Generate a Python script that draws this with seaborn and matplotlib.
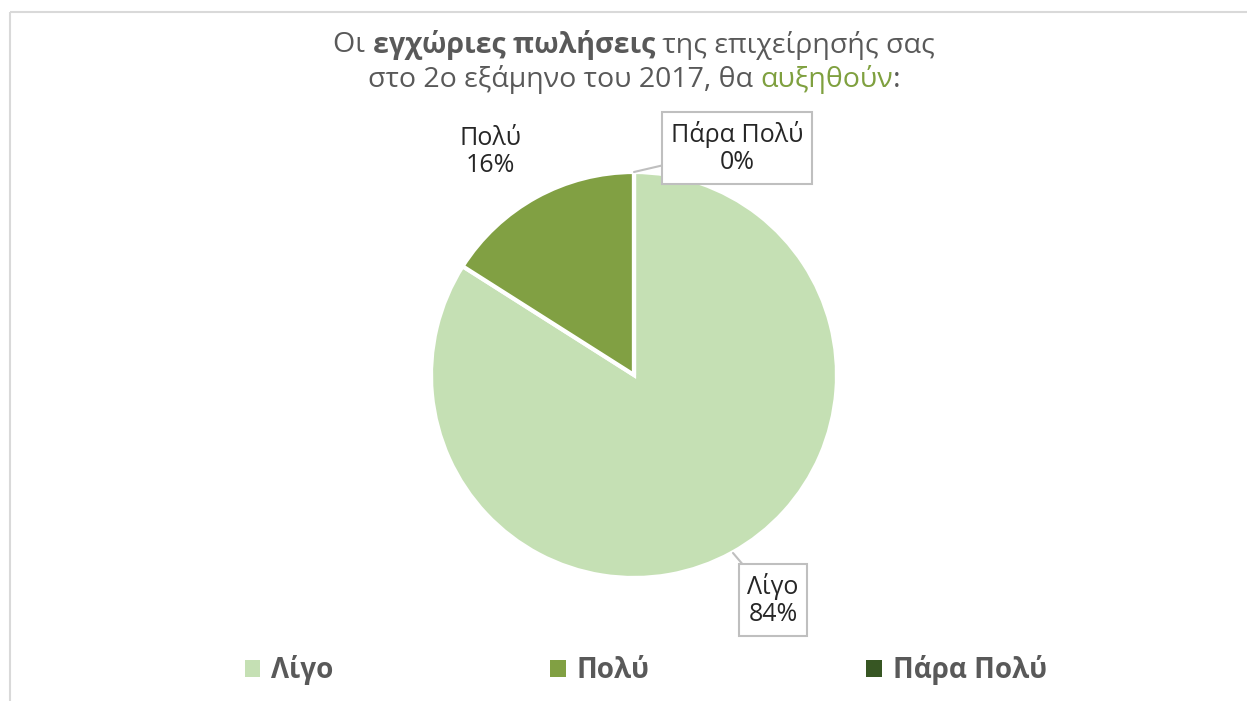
import matplotlib
matplotlib.use("Agg")
import matplotlib.pyplot as plt
from matplotlib.patches import Patch
import seaborn as sns

# data
categories = ["Λίγο", "Πολύ", "Πάρα Πολύ"]
values = [84, 16, 0]
colors = ["#C5E0B4", "#81A043", "#375623"]

title_line1 = [("Οι ", "normal", "#595959"), ("εγχώριες πωλήσεις", "bold", "#595959"),
               (" της επιχείρησής σας", "normal", "#595959")]
title_line2 = [("στο 2ο εξάμηνο του 2017, θα ", "normal", "#595959"), ("αυξηθούν", "normal", "#7FA03F"),
               (":", "normal", "#595959")]

sns.set_theme(style="white")
plt.rcParams['font.family'] = ['Open Sans', 'DejaVu Sans']

W, H = 1247, 701
fig = plt.figure(figsize=(W / 100, H / 100), dpi=100)
ax = fig.add_axes([0, 0, 1, 1])

# chart frame (top and left edges visible)
ax.plot([10, W + 5], [H - 12, H - 12], color="#D9D9D9", lw=1.5, solid_capstyle="butt")
ax.plot([10, 10], [H - 12, -5], color="#D9D9D9", lw=1.5, solid_capstyle="butt")

cx, cy, r = 634, H - 375, 203
wedges, _ = ax.pie(values, colors=colors, startangle=90, counterclock=False,
                   center=(cx, cy), radius=r, frame=True,
                   wedgeprops=dict(edgecolor="white", linewidth=3))
ax.set_xlim(0, W)
ax.set_ylim(0, H)
ax.set_aspect("equal")
ax.axis("off")

pct = [f"{v}%" for v in values]
box = dict(boxstyle="square,pad=0.35", fc="white", ec="#BFBFBF", lw=1.5)
arrow = dict(arrowstyle="-", color="#BFBFBF", lw=1.5, shrinkA=0, shrinkB=0)
ax.annotate(f"{categories[0]}\n{pct[0]}", xy=(733, H - 553), xytext=(773, H - 600),
            ha="center", va="center", fontsize=18, color="#262626",
            bbox=box, arrowprops=arrow, linespacing=1.1)
ax.text(490, H - 152, f"{categories[1]}\n{pct[1]}", ha="center", va="center",
        fontsize=18, color="#262626", linespacing=1.1)
ax.annotate(f"{categories[2]}\n{pct[2]}", xy=(634, H - 172), xytext=(737, H - 148),
            ha="center", va="center", fontsize=18, color="#262626",
            bbox=box, arrowprops=arrow, linespacing=1.1)

# title with mixed styling
renderer = fig.canvas.get_renderer()


def draw_line(parts, y, size=20.5):
    widths = []
    for txt, weight, col in parts:
        t = ax.text(0, y, txt, fontsize=size, fontweight=weight, color=col, va="center")
        widths.append(t.get_window_extent(renderer).width)
        t.remove()
    x = cx - sum(widths) / 2
    for (txt, weight, col), w in zip(parts, widths):
        ax.text(x, y, txt, fontsize=size, fontweight=weight, color=col, va="center")
        x += w


draw_line(title_line1, H - 45)
draw_line(title_line2, H - 80)

handles = [Patch(facecolor=c, edgecolor="none") for c in colors]
leg = fig.legend(handles, categories, loc="center", bbox_to_anchor=(646 / W, 1 - 670 / H),
                 ncol=3, frameon=False, handlelength=0.55, handleheight=0.55,
                 handletextpad=0.4, columnspacing=7.8,
                 prop=dict(size=20, weight="bold"))
for t in leg.get_texts():
    t.set_color("#595959")

fig.savefig("out.png", dpi=100)
